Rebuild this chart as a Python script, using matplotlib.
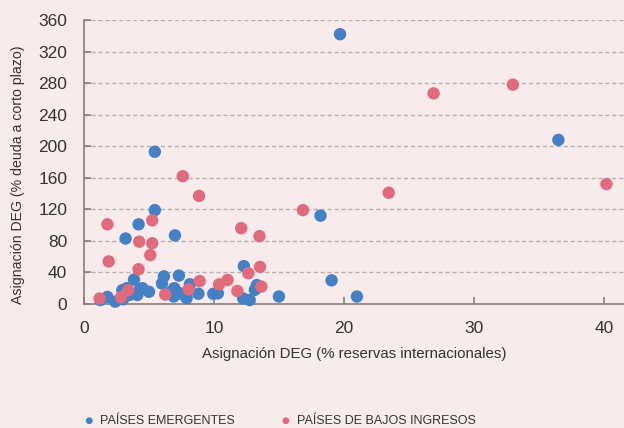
import matplotlib
matplotlib.use("Agg")
import matplotlib.pyplot as plt

# Asignación DEG: % reservas internacionales (x) vs % deuda a corto plazo (y)
emerg_x = [19.7, 36.5, 5.45, 5.45, 7.0, 4.2, 3.2, 18.2, 19.05, 21.0,
           12.3, 15.0, 3.85, 6.15, 7.3, 6.0, 8.15, 13.3, 13.15, 12.25,
           12.75, 9.95, 10.3, 8.8, 7.9, 6.95, 6.7, 7.4, 5.0, 4.5,
           4.3, 4.1, 2.95, 3.5, 2.4, 3.0, 1.8, 1.25, 3.3, 6.9, 7.7]
emerg_y = [342, 208, 193, 119, 87, 101, 83, 112, 30, 9.5,
           48, 9.5, 31, 35, 36, 26, 25, 24, 18, 7,
           5, 13, 13.5, 13, 7.5, 20, 15.5, 13.5, 15.5, 20,
           19, 11.5, 17.5, 11.5, 3, 6, 9, 5, 20, 9.5, 11.5]

bajos_x = [26.9, 33.0, 40.2, 23.45, 16.85, 7.6, 8.85, 5.25, 1.8, 4.25,
           5.25, 5.1, 1.9, 4.2, 12.1, 13.5, 13.55, 12.65, 8.9, 11.05,
           10.4, 11.8, 13.65, 8.05, 6.25, 1.2, 2.85, 3.4]
bajos_y = [267, 278, 152, 141, 119, 162, 137, 106, 101, 79,
           77, 62, 54, 44, 96, 86, 47, 39, 29, 30.5,
           25, 16.5, 22, 18.5, 12, 7, 8.5, 17.5]

labels = ["PAÍSES EMERGENTES", "PAÍSES DE BAJOS INGRESOS"]
colors = ["#4680c4", "#e06b7d"]
bg = "#f8ebeb"
txt = "#333333"

plt.rcParams["font.family"] = ["Liberation Sans", "DejaVu Sans"]

fig = plt.figure(figsize=(6.24, 4.28), dpi=100, facecolor=bg)
ax = fig.add_axes([0.1346, 0.2897, 0.8654, 0.6636], facecolor=bg)

ax.scatter(emerg_x, emerg_y, s=80, color=colors[0], edgecolors="none",
           label=labels[0], zorder=3, clip_on=False)
ax.scatter(bajos_x, bajos_y, s=80, color=colors[1], edgecolors="none",
           label=labels[1], zorder=4, clip_on=False)

ax.set_xlim(0, 41.55)
ax.set_ylim(0, 360)
ax.set_xticks([0, 10, 20, 30, 40])
ax.set_yticks(range(0, 361, 40))
ax.yaxis.grid(True, color="#b5b0b0", linestyle=(0, (3, 2)), linewidth=1)
ax.set_axisbelow(True)

for s in ["top", "right"]:
    ax.spines[s].set_visible(False)
for s in ["left", "bottom"]:
    ax.spines[s].set_color("#858080")
    ax.spines[s].set_linewidth(1.2)

ax.tick_params(axis="both", direction="in", length=5, width=1.2,
               color="#858080", labelsize=12.5, labelcolor=txt)
ax.tick_params(axis="y", pad=12)
ax.tick_params(axis="x", pad=12)

ax.set_xlabel("Asignación DEG (% reservas internacionales)", fontsize=10.8,
              color=txt, labelpad=8)
ax.set_ylabel("Asignación DEG (% deuda a corto plazo)", fontsize=10.2,
              color=txt, labelpad=8)
ax.yaxis.set_label_coords(-0.11, 0.455)

leg = fig.legend(loc="lower left", bbox_to_anchor=(0.109, -0.024), ncol=2,
                 frameon=False, handletextpad=0.05, handlelength=1.6,
                 columnspacing=3.3, markerscale=0.55, labelcolor=txt,
                 prop={"size": 9})

fig.savefig("out.png", dpi=100, facecolor=bg)
